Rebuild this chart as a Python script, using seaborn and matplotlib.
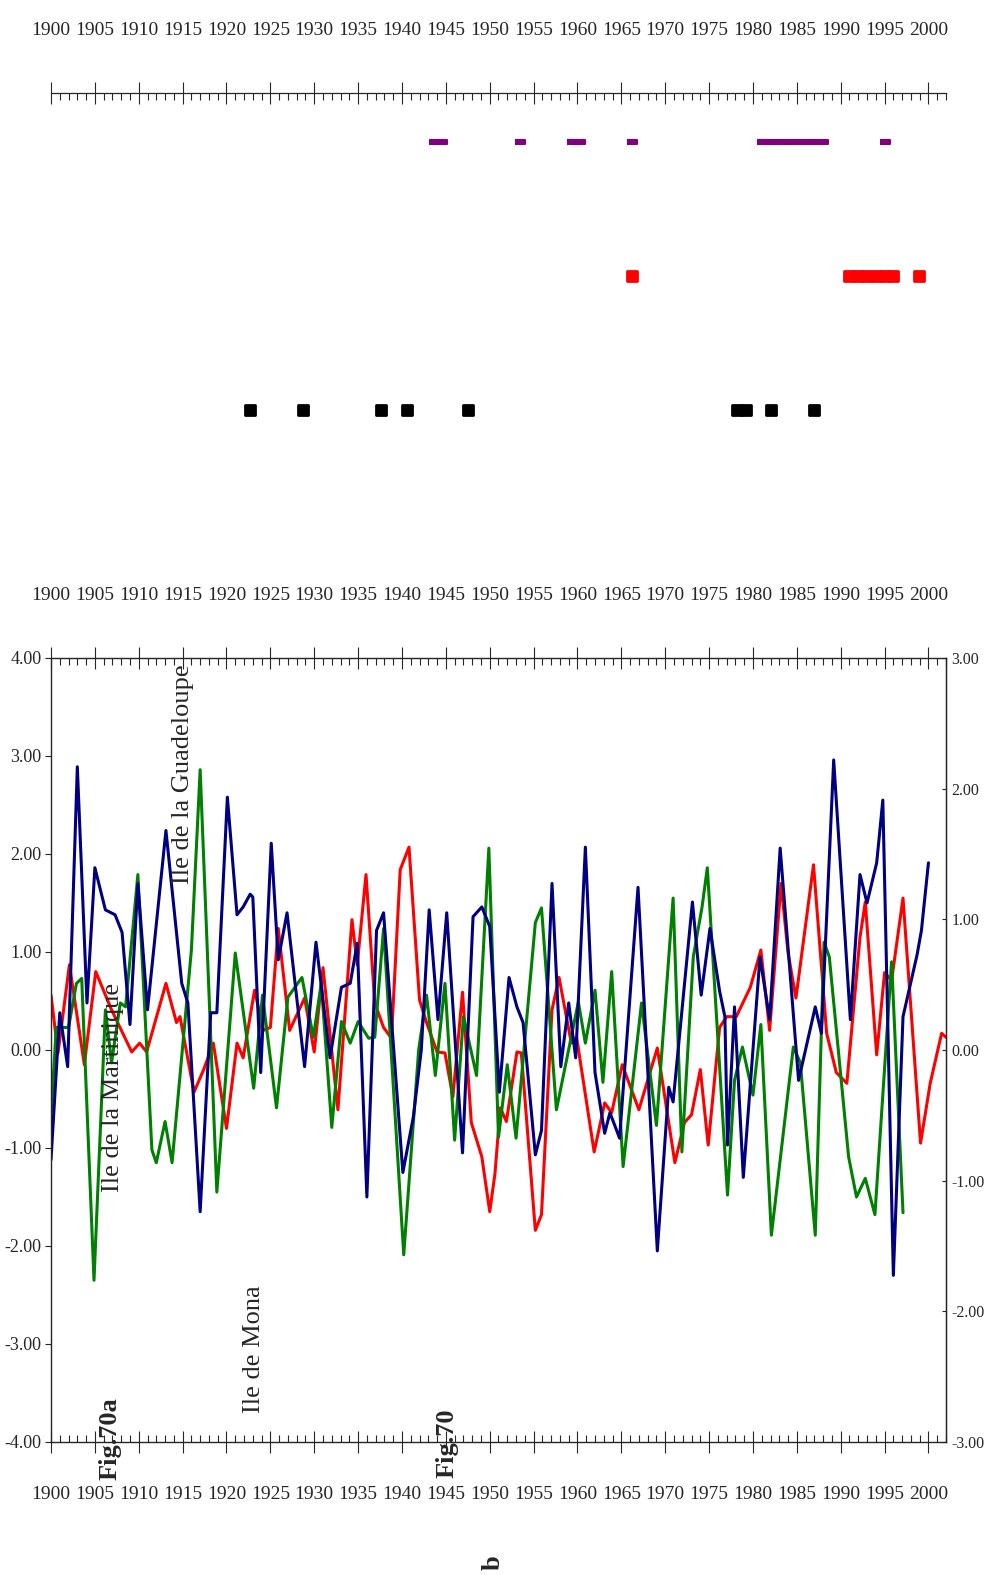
import matplotlib
matplotlib.use("Agg")
import matplotlib.pyplot as plt
from matplotlib.ticker import FormatStrFormatter, NullLocator
import seaborn as sns

# ---- top strip: years flagged in each row ----
purple_years = [1943.6, 1944.6, 1953.5, 1959.4, 1960.3, 1966.25,
                1981, 1982, 1983, 1984, 1985, 1986, 1987, 1988, 1995]
red_years = [1966.25, 1991, 1992, 1993, 1994, 1995, 1996, 1998.9]
black_years = [1922.7, 1928.7, 1937.6, 1940.6, 1947.5, 1978.2, 1979.2, 1982.1, 1987.0]

# ---- main panel series (left axis units) ----
navy_years = [1900.0, 1901.0, 1901.9, 1903.0, 1904.1, 1905.0, 1906.2, 1907.3, 1908.1, 1909.0,
              1909.9, 1911.0, 1913.1, 1914.9, 1915.6, 1917.0, 1918.2, 1918.9, 1920.1, 1921.2,
              1921.9, 1922.7, 1923.0, 1923.9, 1925.1, 1925.9, 1926.9, 1928.9, 1930.2, 1931.8,
              1933.1, 1934.1, 1934.9, 1936.0, 1937.1, 1937.9, 1940.1, 1941.3, 1942.2, 1943.1,
              1944.1, 1945.1, 1946.9, 1948.1, 1949.1, 1950.0, 1951.1, 1952.2, 1953.1, 1953.8,
              1955.2, 1955.9, 1957.1, 1958.1, 1959.0, 1959.8, 1960.9, 1962.0, 1963.1, 1963.7,
              1964.8, 1966.9, 1969.1, 1970.4, 1970.9, 1973.1, 1974.1, 1975.1, 1976.2, 1976.8,
              1977.1, 1977.9, 1978.9, 1980.8, 1981.9, 1983.1, 1985.2, 1987.1, 1987.8, 1989.2,
              1991.1, 1992.2, 1993.0, 1994.1, 1994.8, 1996.0, 1997.1, 1998.7, 1999.2, 2000.0]
navy_vals = [-1.12, 0.38, -0.17, 2.89, 0.48, 1.86, 1.43, 1.38, 1.20, 0.26,
             1.70, 0.41, 2.24, 0.68, 0.48, -1.65, 0.38, 0.38, 2.58, 1.38,
             1.46, 1.59, 1.56, -0.23, 2.11, 0.92, 1.40, -0.17, 1.10, -0.08,
             0.64, 0.68, 1.09, -1.50, 1.22, 1.40, -1.25, -0.68, 0.00, 1.43,
             0.31, 1.40, -1.05, 1.36, 1.46, 1.26, -0.43, 0.74, 0.44, 0.28,
             -1.07, -0.82, 1.70, -0.17, 0.48, -0.08, 2.07, -0.23, -0.85, -0.64,
             -0.90, 1.66, -2.05, -0.38, -0.53, 1.51, 0.56, 1.24, 0.60, 0.34,
             -0.97, 0.44, -1.30, 0.95, 0.31, 2.06, -0.31, 0.44, 0.17, 2.96,
             0.31, 1.79, 1.50, 1.91, 2.55, -2.30, 0.34, 0.97, 1.22, 1.91]

red_line_years = [1900.0, 1900.8, 1902.1, 1903.8, 1905.1, 1906.9, 1909.2, 1910.1, 1910.9, 1913.1,
                  1914.3, 1914.7, 1916.3, 1917.4, 1918.5, 1920.0, 1921.2, 1921.9, 1923.2, 1924.2,
                  1925.0, 1925.9, 1927.2, 1928.9, 1930.0, 1931.0, 1932.7, 1934.3, 1934.9, 1935.9,
                  1936.9, 1937.9, 1938.8, 1939.8, 1940.8, 1942.0, 1942.8, 1944.0, 1944.9, 1945.8,
                  1946.9, 1947.9, 1949.1, 1950.0, 1950.6, 1951.2, 1951.9, 1953.1, 1953.6, 1955.2,
                  1955.9, 1957.1, 1957.9, 1959.3, 1959.9, 1961.9, 1963.1, 1963.9, 1965.1, 1967.0,
                  1969.1, 1971.1, 1972.2, 1973.0, 1974.0, 1974.9, 1976.2, 1977.0, 1978.1, 1979.7,
                  1980.9, 1981.9, 1983.2, 1984.0, 1984.9, 1986.9, 1988.4, 1989.5, 1990.7, 1992.2,
                  1992.8, 1994.1, 1995.0, 1995.8, 1997.1, 1999.1, 2000.2, 2001.5, 2002.0]
red_line_vals = [0.56, -0.03, 0.87, -0.15, 0.80, 0.41, -0.02, 0.07, -0.02, 0.68,
                 0.28, 0.34, -0.43, -0.20, 0.07, -0.80, 0.07, -0.08, 0.61, 0.20,
                 0.23, 1.24, 0.20, 0.53, -0.02, 0.84, -0.61, 1.33, 0.87, 1.79,
                 0.48, 0.23, 0.12, 1.84, 2.07, 0.51, 0.28, -0.02, -0.03, -0.48,
                 0.59, -0.74, -1.09, -1.65, -1.26, -0.59, -0.73, -0.02, -0.03, -1.84,
                 -1.68, 0.41, 0.74, 0.07, 0.13, -1.04, -0.54, -0.64, -0.15, -0.61,
                 0.02, -1.15, -0.74, -0.66, -0.20, -0.97, 0.23, 0.34, 0.34, 0.64,
                 1.02, 0.20, 1.70, 0.99, 0.53, 1.89, 0.17, -0.23, -0.34, 1.15,
                 1.51, -0.05, 0.79, 0.71, 1.55, -0.95, -0.34, 0.17, 0.13]

green_years = [1900.0, 1900.6, 1902.0, 1902.9, 1903.5, 1904.9, 1906.2, 1906.9, 1907.9, 1908.5,
               1909.9, 1911.5, 1912.0, 1913.0, 1913.8, 1916.0, 1917.0, 1918.9, 1921.0, 1923.1,
               1924.1, 1925.7, 1927.0, 1928.6, 1929.9, 1930.8, 1932.0, 1933.1, 1934.1, 1935.0,
               1936.2, 1936.9, 1937.9, 1940.2, 1941.9, 1942.8, 1943.8, 1944.9, 1946.0, 1947.0,
               1948.5, 1949.9, 1951.0, 1952.0, 1953.0, 1955.2, 1955.9, 1957.6, 1960.1, 1960.9,
               1962.0, 1962.9, 1963.9, 1965.2, 1967.3, 1969.0, 1970.9, 1971.9, 1973.2, 1974.2,
               1974.8, 1977.1, 1977.9, 1978.8, 1980.0, 1980.9, 1982.1, 1984.6, 1985.4, 1987.1,
               1988.1, 1988.7, 1990.9, 1991.8, 1992.8, 1993.9, 1995.8, 1997.1]
green_vals = [-0.68, 0.23, 0.23, 0.68, 0.73, -2.35, 0.41, -0.13, 0.48, 0.44,
              1.79, -1.02, -1.15, -0.73, -1.15, 1.02, 2.86, -1.45, 0.99, -0.39,
              0.56, -0.59, 0.54, 0.74, 0.13, 0.68, -0.79, 0.29, 0.07, 0.29,
              0.12, 0.13, 1.24, -2.09, 0.00, 0.56, -0.26, 0.68, -0.92, 0.34,
              -0.26, 2.06, -0.89, -0.15, -0.90, 1.30, 1.45, -0.61, 0.49, 0.07,
              0.61, -0.33, 0.80, -1.19, 0.48, -0.77, 1.55, -1.04, 0.95, 1.46,
              1.86, -1.48, -0.31, 0.03, -0.46, 0.26, -1.89, 0.03, -0.13, -1.89,
              1.10, 0.95, -1.09, -1.50, -1.31, -1.68, 0.90, -1.66]

year_ticks = list(range(1900, 2001, 5))
left_ticks = [-4, -3, -2, -1, 0, 1, 2, 3, 4]
right_ticks = [-3, -2, -1, 0, 1, 2, 3]

sns.set_style("white")
plt.rcParams["font.family"] = ["Liberation Serif", "DejaVu Serif"]
plt.rcParams["axes.unicode_minus"] = False

W, H = 989, 1575
fig = plt.figure(figsize=(W / 100, H / 100), dpi=100)


def box(x0, y0, x1, y1):
    return [x0 / W, 1 - y1 / H, (x1 - x0) / W, (y1 - y0) / H]


# ---------------- top strip ----------------
ax0 = fig.add_axes(box(51, 93.3, 946, 560))
rect = [(-1, -0.45), (1, -0.45), (1, 0.45), (-1, 0.45)]
sns.scatterplot(x=purple_years, y=[0] * len(purple_years), color="#800080", marker=rect,
                s=50, linewidth=1.5, edgecolor="#800080", ax=ax0)
sns.scatterplot(x=red_years, y=[1] * len(red_years), color="#ff0000", marker="s",
                s=48, linewidth=2, edgecolor="#ff0000", ax=ax0)
sns.scatterplot(x=black_years, y=[2] * len(black_years), color="black", marker="s",
                s=48, linewidth=2, edgecolor="black", ax=ax0)
ax0.set_xlim(1900, 2002)
ax0.set_ylim(3.119, -0.363)
ax0.set_yticks([])
for s in ["left", "right", "bottom"]:
    ax0.spines[s].set_visible(False)
ax0.spines["top"].set_linewidth(0.9)
ax0.set_xticks(year_ticks)
ax0.set_xticks(range(1900, 2003), minor=True)
ax0.xaxis.set_ticks_position("top")
ax0.tick_params(axis="x", which="major", direction="inout", length=16, width=0.8,
                top=True, bottom=False, labeltop=True, labelbottom=False,
                labelsize=14, pad=31)
ax0.tick_params(axis="x", which="minor", direction="in", length=5, width=0.8,
                top=True, bottom=False)

# ---------------- main panel ----------------
ax = fig.add_axes(box(51, 658, 946, 1442))
sns.lineplot(x=red_line_years, y=red_line_vals, color="#ff0000", linewidth=2.2, ax=ax)
sns.lineplot(x=green_years, y=green_vals, color="#008000", linewidth=2.2, ax=ax)
sns.lineplot(x=navy_years, y=navy_vals, color="#000080", linewidth=2.2, ax=ax)
ax.set_xlim(1900, 2002)
ax.set_ylim(-4, 4)
ax.set_xticks(year_ticks)
ax.set_xticks(range(1900, 2003), minor=True)
ax.set_yticks(left_ticks)
ax.yaxis.set_major_formatter(FormatStrFormatter("%.2f"))
ax.tick_params(axis="x", which="major", direction="inout", length=16, width=0.8,
               top=True, bottom=True, labeltop=False, labelbottom=True,
               labelsize=14, pad=24)
ax.tick_params(axis="x", which="minor", direction="in", length=5, width=0.8,
               top=True, bottom=True)
ax.tick_params(axis="y", direction="out", length=4, width=0.8, labelsize=13, pad=3)
for s in ax.spines.values():
    s.set_linewidth(0.9)
    s.set_color("black")

ax2 = ax.twinx()
ax2.set_ylim(-3, 3)
ax2.set_yticks(right_ticks)
ax2.yaxis.set_major_formatter(FormatStrFormatter("%.2f"))
ax2.tick_params(axis="y", direction="in", length=3, width=0.8, labelsize=11.5, pad=4)
ax2.spines["right"].set_linewidth(0.9)

sec = ax.secondary_xaxis("top")
sec.set_xticks(year_ticks)
sec.xaxis.set_minor_locator(NullLocator())
sec.tick_params(axis="x", length=0, labelsize=14, pad=39)
sec.spines["top"].set_visible(False)

# ---------------- annotations ----------------
lab = dict(rotation=90, ha="center", va="bottom", fontsize=19)
fig.text(182.7 / W, 1 - 884 / H, "Ile de la Guadeloupe", **lab)
fig.text(112.5 / W, 1 - 1192 / H, "Ile de la Martinique", **lab)
fig.text(254 / W, 1 - 1413 / H, "Ile de Mona", **lab)
fig.text(110 / W, 1 - 1480 / H, "Fig.70a", fontweight="bold", **lab)
fig.text(447 / W, 1 - 1478 / H, "Fig.70", fontweight="bold", **lab)
fig.text(493 / W, 1 - 1555 / H, "b", rotation=90, ha="center", va="top",
         fontsize=19, fontweight="bold")

fig.savefig("out.png", dpi=100)
